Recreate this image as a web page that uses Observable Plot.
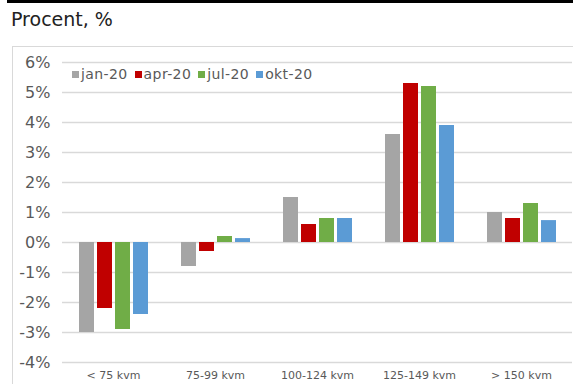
<!DOCTYPE html>
<html>
<head>
<meta charset="utf-8">
<script src="https://cdn.jsdelivr.net/npm/d3@7"></script>
<script src="https://cdn.jsdelivr.net/npm/@observablehq/plot@0.6"></script>
<style>
  html, body { margin: 0; padding: 0; background: #fff; }
  body { width: 573px; height: 384px; position: relative; overflow: hidden; font-family: "DejaVu Sans", sans-serif; }
  #topbar { position: absolute; left: 7px; top: 0; width: 566px; height: 3px; background: #000; }
  #title { position: absolute; left: 11px; top: 8px; font-size: 19px; color: #222; white-space: nowrap; }
  #frame { position: absolute; left: 12px; top: 46px; width: 600px; height: 400px; border-left: 1.5px solid #d9d9d9; border-top: 1.5px solid #d9d9d9; box-sizing: border-box; }
  #chart { position: absolute; left: 0; top: 46px; }
  #legend { position: absolute; left: 72px; top: 66px; display: flex; align-items: center; font-size: 14px; letter-spacing: 0.4px; color: #595959; white-space: nowrap; }
  #legend .item { display: flex; align-items: center; margin-right: 7px; }
  #legend .sw { width: 7px; height: 7px; margin-right: 2px; }
</style>
</head>
<body>
<div id="topbar"></div>
<div id="title">Procent, %</div>
<div id="frame"></div>
<div id="chart"></div>
<div id="legend"></div>
<script>
const categories = ["< 75 kvm", "75-99 kvm", "100-124 kvm", "125-149 kvm", "> 150 kvm"];
const series = ["jan-20", "apr-20", "jul-20", "okt-20"];
const jan20 = [-3.0, -0.8, 1.5, 3.6, 1.0];
const apr20 = [-2.2, -0.3, 0.6, 5.3, 0.8];
const jul20 = [-2.9, 0.2, 0.8, 5.2, 1.3];
const okt20 = [-2.4, 0.13, 0.8, 3.9, 0.73];
const colors = ["#a5a5a5", "#c00000", "#70ad47", "#5b9bd5"];
const yTicks = [-4, -3, -2, -1, 0, 1, 2, 3, 4, 5, 6];

const seriesValues = [jan20, apr20, jul20, okt20];
const data = [];
categories.forEach((cat, i) => {
  series.forEach((s, j) => {
    data.push({cat, series: s, value: seriesValues[j][i]});
  });
});

const chart = Plot.plot({
  width: 573,
  height: 338,
  marginLeft: 60,
  marginRight: 0,
  marginTop: 16,
  marginBottom: 22,
  style: {fontFamily: "DejaVu Sans, sans-serif", background: "transparent"},
  fx: {domain: categories, padding: 0, label: null},
  x: {domain: series, paddingInner: 0.17, paddingOuter: 0.83, axis: null},
  y: {domain: [-4, 6], label: null},
  color: {domain: series, range: colors},
  marks: [
    Plot.gridY(yTicks, {stroke: "#d9d9d9", strokeOpacity: 1, strokeWidth: 1.5}),
    Plot.axisY(yTicks, {tickSize: 0, tickPadding: 12, tickFormat: d => d + "%", fontSize: 16, fill: "#595959", label: null}),
    Plot.axisFx({anchor: "bottom", tickSize: 0, tickPadding: 9, fontSize: 11, fill: "#595959", label: null}),
    Plot.barY(data, {fx: "cat", x: "series", y: "value", fill: "series"})
  ]
});
document.getElementById("chart").appendChild(chart);

const legend = document.getElementById("legend");
series.forEach((s, j) => {
  const item = document.createElement("div");
  item.className = "item";
  const sw = document.createElement("span");
  sw.className = "sw";
  sw.style.background = colors[j];
  const t = document.createElement("span");
  t.textContent = s;
  item.appendChild(sw);
  item.appendChild(t);
  legend.appendChild(item);
});
</script>
</body>
</html>
